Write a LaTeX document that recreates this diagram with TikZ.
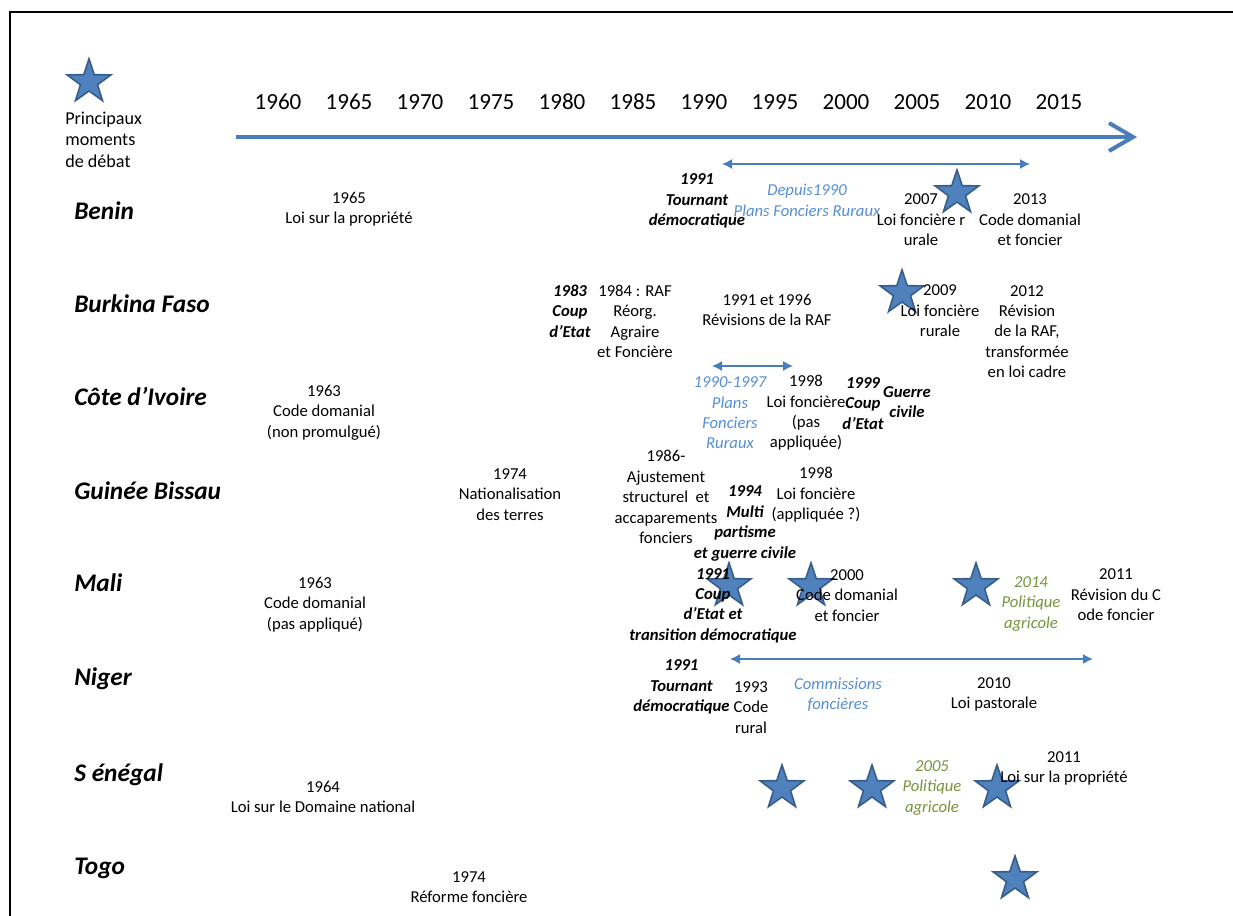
\documentclass[tikz,border=0pt]{standalone}
\usepackage{fontspec}
\setmainfont{Carlito}
\usetikzlibrary{arrows.meta, shapes.geometric}

\definecolor{axisblue}{HTML}{4A7EBB}
\definecolor{planblue}{HTML}{558ED5}
\definecolor{policygreen}{HTML}{77933C}
\definecolor{starfill}{HTML}{4F81BD}
\definecolor{starline}{HTML}{385D8A}

\begin{document}
\begin{tikzpicture}[x = 0.75pt, y = -0.75pt,
    law/.style = {align = center, inner sep = 0pt, font = \fontsize{12.5}{15.3}\selectfont},
    crisis/.style = {law, font = \fontsize{12.5}{15.3}\selectfont\bfseries\itshape},
    plan/.style = {law, font = \fontsize{12.5}{15.3}\selectfont\itshape, text = planblue},
    policy/.style = {law, font = \fontsize{12.5}{15.3}\selectfont\itshape, text = policygreen},
    country/.style = {anchor = base west, inner sep = 0pt, font = \fontsize{19}{22}\selectfont\bfseries\itshape},
    yearmark/.style = {anchor = base, inner sep = 0pt, font = \fontsize{17.3}{20}\selectfont},
    debate/.style = {star, star points = 5, star point ratio = 2.55, minimum size = 34.5pt, inner sep = 0pt, fill = starfill, draw = starline, line width = 1.2pt},
    span/.style = {draw = axisblue, line width = 1.1pt, {Latex[length = 7.5pt, width = 7.5pt]}-{Latex[length = 7.5pt, width = 7.5pt]}}]

  \useasboundingbox (0,0) rectangle (1233,916);
  \draw[line width = 1.5pt] (9.5,916) -- (9.5,12.5) -- (1233,12.5);

  % legend
  \node[debate] (legend) at (89,82) {};
  \node[anchor = west, align = left, inner sep = 0pt, font = \fontsize{13.6}{16.1}\selectfont] (legendtext) at (65,139.5) {Principaux\\moments\\de débat};

  % time axis
  \foreach \yr [count = \i from 0] in {1960,1965,...,2015}
    \node[yearmark] (y\yr) at (278 + 71*\i, 109.5) {\yr};
  \coordinate (t0) at (236,137);
  \coordinate (t1) at (1137,137);
  \draw[axisblue, line width = 3pt, -{Straight Barb[length = 18pt, width = 21pt]}] (t0) -- (t1);

  % countries
  \foreach \name/\y [count = \i] in {Benin/220, Burkina Faso/313, Côte d’Ivoire/406, Guinée Bissau/499, Mali/591, Niger/685, S énégal/781, Togo/874}
    \node[country] (c\i) at (74,\y) {\name};

  % debates
  \foreach \x/\y [count = \i] in {957/193, 902/293, 729/586, 811/586, 976/586, 782/788, 872/788, 997/788, 1015/879}
    \node[debate] (s\i) at (\x,\y) {};

  % Benin
  \node[law] (bj65) at (349,209) {1965\\Loi sur la propriété};
  \node[crisis] (bj91) at (697,201) {1991\\Tournant\\démocratique};
  \node[plan] (bj90) at (807,200.5) {Depuis1990\\Plans Fonciers Ruraux};
  \node[law] (bj07) at (921,220) {2007\\Loi foncière r\\urale};
  \node[law] (bj13) at (1030,220) {2013\\Code domanial\\et foncier};
  \coordinate (bjL) at (722,164);
  \coordinate (bjR) at (1030,164);

  % Burkina Faso
  \node[crisis] (bf83) at (570,311) {1983\\Coup\\d’Etat};
  \node[law] (bf84) at (635,321.5) {1984 : RAF\\Réorg.\\Agraire\\et Foncière};
  \node[law] (bf91) at (767,310) {1991 et 1996\\Révisions de la RAF};
  \node[law] (bf09) at (940,311) {2009\\Loi foncière\\rurale};
  \node[law] (bf12) at (1027,331.5) {2012\\Révision\\de la RAF,\\transformée\\en loi cadre};

  % Cote d'Ivoire
  \node[law] (ci63) at (324,412.5) {1963\\Code domanial\\(non promulgué)};
  \node[plan] (ci90) at (730,413) {1990-1997\\Plans\\Fonciers\\Ruraux};
  \node[law] (ci98) at (806,413) {1998\\Loi foncière\\(pas\\appliquée)};
  \node[crisis] (ci99) at (863,403.5) {1999\\Coup\\d’Etat};
  \node[crisis] (ciwar) at (907,402) {Guerre\\civile};
  \coordinate (ciL) at (712,366);
  \coordinate (ciR) at (793,366);

  % Guinee Bissau
  \node[law] (gb74) at (510,494.5) {1974\\Nationalisation\\des terres};
  \node[law] (gb86) at (666,497) {1986-\\Ajustement\\structurel~ et\\accaparements\\fonciers};
  \node[crisis] (gb94) at (745,523.5) {1994\\Multi\\partisme\\et guerre civile};
  \node[law] (gb98) at (816,495) {1998\\Loi foncière\\(appliquée ?)};

  % Mali
  \node[law] (ml63) at (315,604.5) {1963\\Code domanial\\(pas appliqué)};
  \node[crisis] (ml91) at (713,605.5) {1991\\Coup\\d’Etat et\\transition démocratique};
  \node[law] (ml00) at (847,595.5) {2000\\Code domanial\\et foncier};
  \node[policy] (ml14) at (1031,604) {2014\\Politique\\agricole};
  \node[law] (ml11) at (1116,595) {2011\\Révision du C\\ode foncier};

  % Niger
  \node[crisis] (ne91) at (681.5,687) {1991\\Tournant\\démocratique};
  \node[law] (ne93) at (751,707.5) {1993\\Code\\rural};
  \node[plan] (necom) at (838,695) {Commissions\\foncières};
  \node[law] (ne10) at (994,694.5) {2010\\Loi pastorale};
  \coordinate (neL) at (730,659);
  \coordinate (neR) at (1093,659);

  % Senegal
  \node[law] (sn64) at (323,797) {1964\\Loi sur le Domaine national};
  \node[policy] (sn05) at (932,788) {2005\\Politique\\agricole};
  \node[law] (sn11) at (1064,768.5) {2011\\Loi sur la propriété};

  % Togo
  \node[law] (tg74) at (469,887) {1974\\Réforme foncière};

  \draw[span] (bjL) -- (bjR);
  \draw[span] (ciL) -- (ciR);
  \draw[span] (neL) -- (neR);
\end{tikzpicture}
\end{document}
